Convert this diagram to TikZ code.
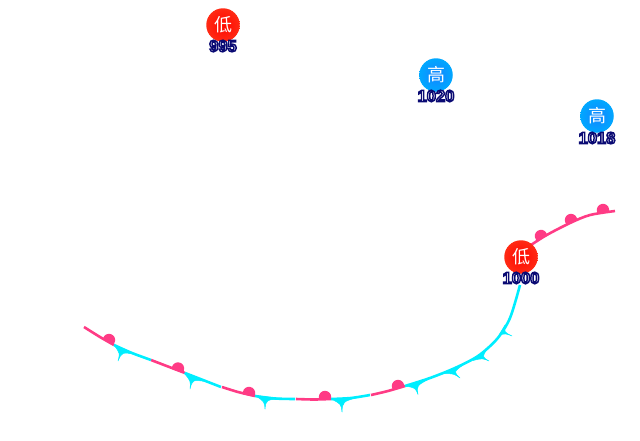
\documentclass[tikz,border=0pt]{standalone}
\usepackage{fontspec}
\setmainfont{Liberation Sans}
\newfontfamily\cjkfont{Noto Sans CJK SC}[Scale=1]
\usetikzlibrary{calc}
\definecolor{warmc}{HTML}{FF3B85}
\definecolor{coldc}{HTML}{00EEFF}
\definecolor{lowin}{HTML}{FF0800}
\definecolor{lowout}{HTML}{FF2A14}
\definecolor{highin}{HTML}{1484FF}
\definecolor{highout}{HTML}{00A8FF}
\newcommand{\outl}[1]{\special{pdf:code q 2 Tr 1.45 w 0.04 0.04 0.45 RG 1 1 1 rg}#1\special{pdf:code 0 Tr Q}}
\tikzset{
 warmline/.style={draw=warmc,line width=2.6pt,line cap=butt},
 coldline/.style={draw=coldc,line width=2.6pt,line cap=butt},
 lowc/.style={circle,minimum size=33.5pt,inner sep=0pt,inner color=lowin,outer color=lowout,text=white,font=\cjkfont\fontsize{18}{18}\selectfont},
 highc/.style={circle,minimum size=33.5pt,inner sep=0pt,inner color=highin,outer color=highout,text=white,font=\cjkfont\fontsize{18}{18}\selectfont},
 vallabel/.style={inner sep=0pt,font=\bfseries\fontsize{16.5}{16.5}\selectfont}
}
\newcommand{\warmbump}[3]{\fill[warmc,shift={(#1,#2)},rotate=#3] (-205:6.2) arc (-205:25:6.2) -- cycle;}
\newcommand{\coldbarb}[6]{\fill[coldc,draw=coldc,line width=0.5pt,line join=round] (#1,#2) .. controls ($($(#1,#2)!.5!(#3,#4)$)!.2!(#5,#6)$) .. (#3,#4) .. controls ($($(#1,#2)!.42!(#5,#6)$)!.25!(#3,#4)$) .. (#5,#6) -- cycle;}
\begin{document}
\begin{tikzpicture}[x=1pt,y=-1pt]
\useasboundingbox (0,0) rectangle (640,440);
% warm segments
\draw[warmline] plot[smooth] coordinates {(84,327) (100,337) (114,345)};
\draw[warmline] plot[smooth] coordinates {(151,360) (168,366.5) (185,373)};
\draw[warmline] plot[smooth] coordinates {(222,387) (238,392) (255,396)};
\draw[warmline] plot[smooth] coordinates {(296,399) (314,399.5) (331,399)};
\draw[warmline] plot[smooth] coordinates {(371,395) (388,391) (405,386)};
\draw[warmline] plot[smooth] coordinates {(522,251) (545,236) (570,223) (590,215) (615,211)};
% cold segments
\draw[coldline] plot[smooth] coordinates {(114,345) (132,353) (151,360)};
\draw[coldline] plot[smooth] coordinates {(185,373) (203,380) (221,387)};
\draw[coldline] plot[smooth] coordinates {(255,396) (275,398.5) (295,399)};
\draw[coldline] plot[smooth] coordinates {(331,399) (351,398) (370,395)};
\draw[coldline] plot[smooth] coordinates {(405,386) (430,378) (455,368) (478,356) (497,339) (510,318) (520,285)};
% warm bumps
\warmbump{109}{340}{-30}
\warmbump{178}{368.5}{-20}
\warmbump{249}{393}{-12}
\warmbump{325}{397}{0}
\warmbump{398}{386}{15}
\warmbump{541}{236}{28}
\warmbump{571}{220}{22}
\warmbump{603}{210}{8}
% cold barbs
\coldbarb{114}{345}{118}{361}{136}{354.5}
\coldbarb{184}{373}{190}{389}{206}{381.5}
\coldbarb{255}{395.5}{265}{409}{282}{398.5}
\coldbarb{331}{399}{342}{412}{359}{397}
\coldbarb{405}{386}{418}{394.5}{431}{378}
\coldbarb{443}{373.5}{460}{378}{463}{365}
\coldbarb{473}{360.5}{489}{361}{488}{348}
\coldbarb{499}{335}{512}{336}{505}{325}
% centres
\node[lowc] (l1) at (223,25) {低};
\node[highc] (h1) at (436,75) {高};
\node[highc] (h2) at (597,116) {高};
\node[lowc] (l2) at (521,257) {低};
\node[vallabel] (t1) at (223,46) {\outl{995}};
\node[vallabel] (t2) at (436,96) {\outl{1020}};
\node[vallabel] (t3) at (597,138) {\outl{1018}};
\node[vallabel] (t4) at (521,278) {\outl{1000}};
\end{tikzpicture}
\end{document}
